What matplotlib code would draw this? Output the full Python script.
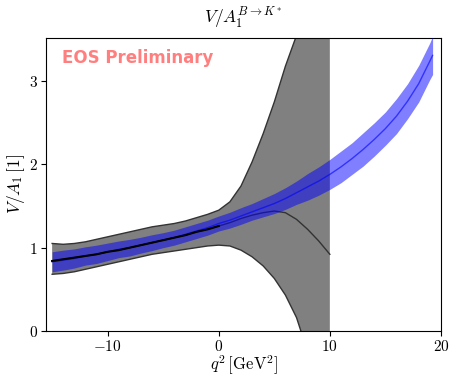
import matplotlib
matplotlib.use("Agg")
import matplotlib.pyplot as plt
from matplotlib.ticker import FuncFormatter
import numpy as np

plt.rcParams['mathtext.fontset'] = 'cm'
plt.rcParams['font.family'] = ['DejaVu Sans']

# ---- data: grey band (one prediction), q^2 in GeV^2 ----
grey_q = [-15, -14, -13, -12, -11, -10, -9, -8, -7, -6, -5, -4, -3, -2, -1,
          0, 1, 2, 3, 4, 5, 6, 7, 8, 9, 10]
grey_upper = [1.05, 1.04, 1.05, 1.07, 1.10, 1.13, 1.16, 1.19, 1.22, 1.25, 1.27, 1.29, 1.32, 1.36, 1.40,
              1.45, 1.55, 1.74, 2.03, 2.37, 2.75, 3.18, 3.55, 3.95, 4.35, 4.75]
grey_lower = [0.68, 0.69, 0.71, 0.74, 0.77, 0.80, 0.83, 0.86, 0.89, 0.92, 0.94, 0.96, 0.98, 1.00, 1.02,
              1.03, 1.02, 0.97, 0.89, 0.78, 0.63, 0.43, 0.16, -0.25, -0.8, -1.5]
grey_central = [0.84, 0.86, 0.88, 0.90, 0.92, 0.95, 0.97, 1.00, 1.03, 1.06, 1.09, 1.12, 1.15, 1.19, 1.22,
                1.26, 1.30, 1.35, 1.39, 1.42, 1.44, 1.42, 1.34, 1.22, 1.08, 0.92]

# ---- data: black line (spacelike region) ----
black_q = [-15, -14, -13, -12, -11, -10, -9, -8, -7, -6, -5, -4, -3, -2, -1, 0]
black_v = [0.84, 0.86, 0.88, 0.90, 0.92, 0.95, 0.97, 1.00, 1.03, 1.06, 1.09, 1.12, 1.15, 1.19, 1.22, 1.26]

# ---- data: blue band ----
blue_q = [-15, -14, -13, -12, -11, -10, -9, -8, -7, -6, -5, -4, -3, -2, -1,
          0, 1, 2, 3, 4, 5, 6, 7, 8, 9, 10, 11, 12, 13, 14, 15, 16, 17, 18, 19, 19.25]
blue_central = [0.83, 0.85, 0.87, 0.90, 0.92, 0.95, 0.98, 1.00, 1.03, 1.06, 1.09, 1.12, 1.16, 1.20, 1.24,
                1.29, 1.33, 1.38, 1.43, 1.48, 1.53, 1.59, 1.66, 1.73, 1.80, 1.88, 1.97, 2.07, 2.18, 2.30,
                2.43, 2.58, 2.76, 2.97, 3.24, 3.31]
blue_halfwidth = [0.12, 0.12, 0.115, 0.11, 0.11, 0.105, 0.10, 0.10, 0.095, 0.095, 0.09, 0.09, 0.09, 0.09, 0.09,
                  0.09, 0.095, 0.10, 0.10, 0.11, 0.12, 0.13, 0.14, 0.16, 0.17, 0.18, 0.19, 0.19, 0.20, 0.20,
                  0.20, 0.21, 0.21, 0.22, 0.22, 0.23]

x_ticks = [-10, 0, 10, 20]
y_ticks = [0, 1, 2, 3]

fig = plt.figure(figsize=(4.49, 3.79), dpi=100)
ax = fig.add_axes([0.1025, 0.127, 0.8795, 0.773])

gq = np.array(grey_q)
ax.fill_between(gq, grey_lower, grey_upper, color='#808080', lw=0, zorder=1)
ax.plot(gq, grey_upper, color='#333333', lw=1.0, zorder=2)
ax.plot(gq, grey_lower, color='#333333', lw=1.0, zorder=2)
ax.plot(gq, grey_central, color='#333333', lw=1.0, zorder=2)

bq = np.array(blue_q)
bc = np.array(blue_central)
bw = np.array(blue_halfwidth)
ax.fill_between(bq, bc - bw, bc + bw, color='blue', alpha=0.5, lw=0, zorder=3)
ax.plot(bq, bc, color='blue', alpha=0.6, lw=1.0, zorder=4)

ax.plot(black_q, black_v, color='black', lw=1.5, zorder=5)

ax.set_xlim(-15.55, 20)
ax.set_ylim(0, 3.52)
ax.set_xticks(x_ticks)
ax.set_yticks(y_ticks)
fmt = FuncFormatter(lambda v, p: r'$%d$' % v)
ax.xaxis.set_major_formatter(fmt)
ax.yaxis.set_major_formatter(fmt)
ax.tick_params(direction='out', length=3.5, width=0.8, labelsize=11, pad=2.5)

ax.set_xlabel(r'$q^2\,[\mathrm{GeV}^2]$', fontsize=12, labelpad=-0.5)
ax.set_ylabel(r'$V/A_1\,[1]$', fontsize=12.5, labelpad=1)
ax.set_title(r'$V/A_1^{B\to K^*}$', fontsize=12.5, pad=10)

ax.text(0.04, 0.932, 'EOS Preliminary', transform=ax.transAxes,
        fontsize=12, fontweight='bold', color='red', alpha=0.5,
        ha='left', va='center', zorder=10)

fig.savefig('out.png', dpi=100)
